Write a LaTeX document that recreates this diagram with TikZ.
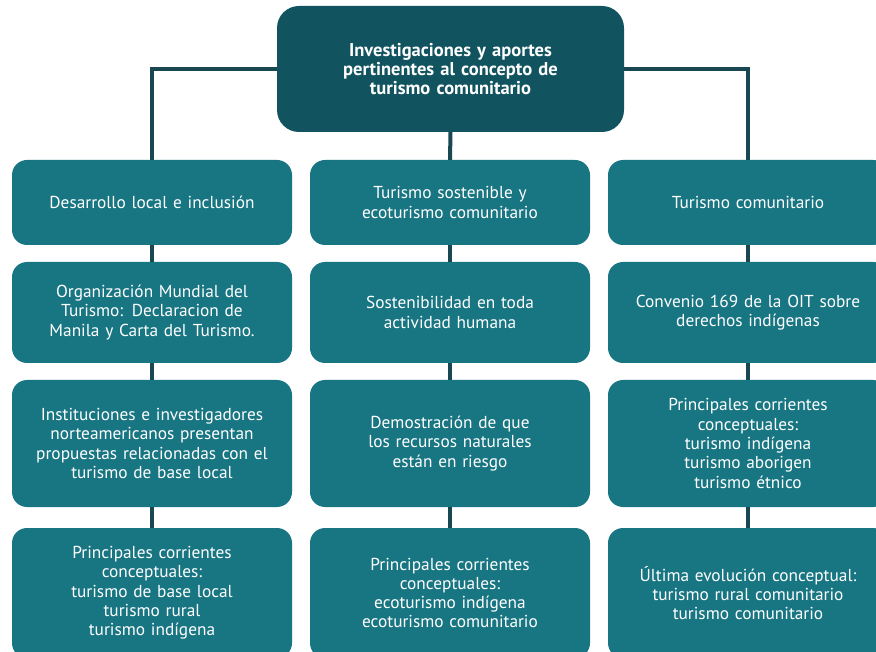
\documentclass[tikz,border=0pt]{standalone}
\usepackage{fontspec}
\setmainfont{PT Sans}
\definecolor{boxc}{RGB}{24,117,130}
\definecolor{topc}{RGB}{17,84,95}
\definecolor{linec}{RGB}{26,72,82}
\begin{document}
\begin{tikzpicture}[x=1pt,y=-1pt,
  box/.style={rectangle, rounded corners=15pt, fill=boxc, text=white,
    minimum width=280pt, text width=270pt, align=center,
    font=\fontsize{17.3}{19.3}\selectfont, inner sep=0pt},
  topbox/.style={rectangle, rounded corners=22pt, fill=topc, text=white,
    minimum width=347pt, minimum height=126pt, text width=320pt, align=center,
    font=\bfseries\fontsize{18.5}{19}\selectfont, inner sep=0pt},
  conn/.style={draw=linec, line width=4pt}]
\clip (0,0) rectangle (876,652);
\fill[white] (0,0) rectangle (876,652);

\node[topbox] (top) at (450.5,69) {Investigaciones y aportes\\pertinentes al concepto de\\turismo comunitario};

% row 1
\node[box, minimum height=85pt] (L1) at (152,202.5) {Desarrollo local e inclusión};
\node[box, minimum height=85pt] (M1) at (450,202.5) {Turismo sostenible y\\ecoturismo comunitario};
\node[box, minimum height=85pt] (R1) at (748,202.5) {Turismo comunitario};
% row 2
\node[box, minimum height=101pt] (L2) at (152,312.5) {Organización Mundial del\\Turismo: Declaracion de\\Manila y Carta del Turismo.};
\node[box, minimum height=101pt] (M2) at (450,312.5) {Sostenibilidad en toda\\actividad humana};
\node[box, minimum height=101pt] (R2) at (748,312.5) {Convenio 169 de la OIT sobre\\derechos indígenas};
% row 3
\node[box, minimum height=127pt] (L3) at (152,443.5) {Instituciones e investigadores\\norteamericanos presentan\\propuestas relacionadas con el\\turismo de base local};
\node[box, minimum height=127pt] (M3) at (450,443.5) {Demostración de que\\los recursos naturales\\están en riesgo};
\node[box, minimum height=127pt] (R3) at (748,443.5) {Principales corrientes\\conceptuales:\\turismo indígena\\turismo aborigen\\turismo étnico};
% row 4
\node[box, minimum height=130pt] (L4) at (152,593) {Principales corrientes\\conceptuales:\\turismo de base local\\turismo rural\\turismo indígena};
\node[box, minimum height=130pt] (M4) at (450,593) {Principales corrientes\\conceptuales:\\ecoturismo indígena\\ecoturismo comunitario};
\node[box, minimum height=130pt] (R4) at (748,593) {Última evolución conceptual:\\turismo rural comunitario\\turismo comunitario};

% connectors
\draw[conn] (top.west) -- (top.west -| L1) -- (L1.north);
\draw[conn] (top.east) -- (top.east -| R1) -- (R1.north);
\draw[conn] (top.south) -- (M1.north);
\foreach \c in {L,M,R}{
  \draw[conn] (\c1.south) -- (\c2.north);
  \draw[conn] (\c2.south) -- (\c3.north);
  \draw[conn] (\c3.south) -- (\c4.north);
}
\end{tikzpicture}
\end{document}
